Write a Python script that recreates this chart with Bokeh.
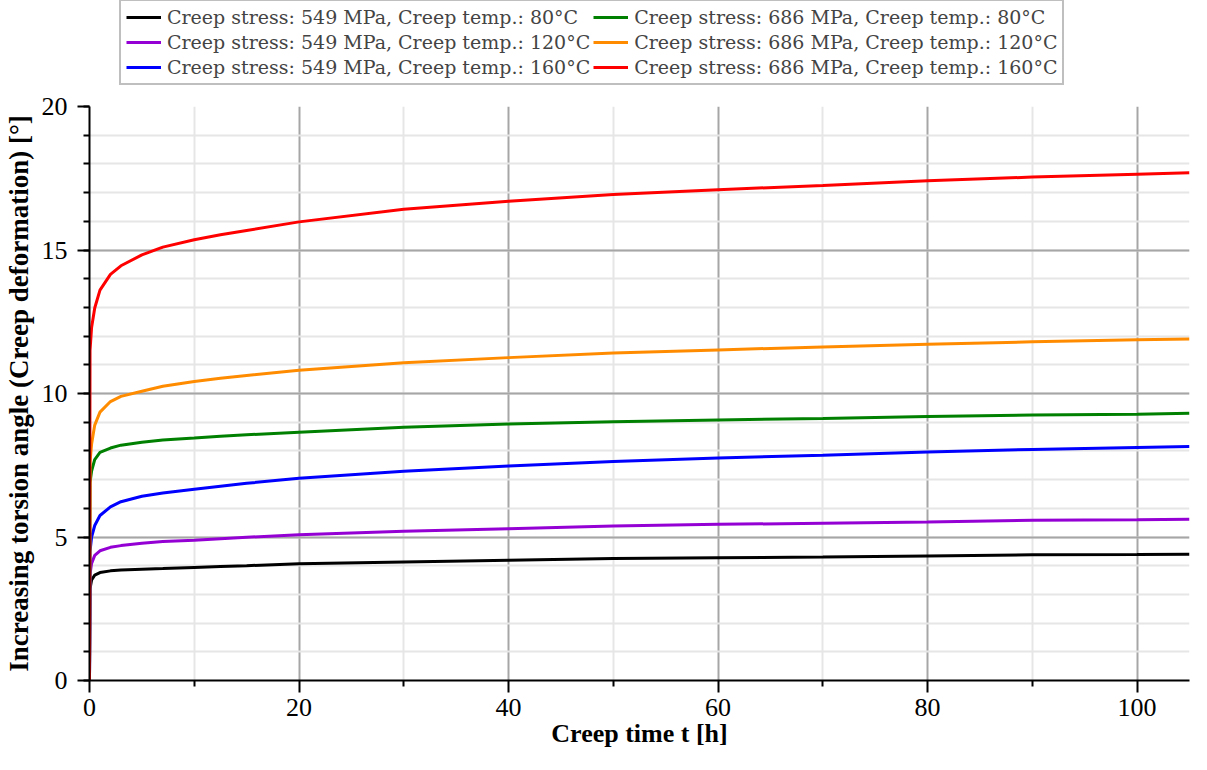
from bokeh.plotting import figure
from bokeh.layouts import column
from bokeh.models import Range1d, FixedTicker, Legend, LegendItem
from bokeh.embed import file_html
from bokeh.resources import INLINE

# Creep time [h]
creep_time = [0, 0.05, 0.2, 0.5, 1, 2, 3, 5, 7, 10, 12.5, 15, 20, 30, 40, 50, 60, 70, 80, 90, 100, 105]

# Increasing torsion angle [deg]
s549_t80 = [0, 3.2, 3.5, 3.67, 3.76, 3.82, 3.85, 3.88, 3.9, 3.94, 3.97, 4.0, 4.07, 4.13, 4.19, 4.25, 4.28, 4.30, 4.34, 4.38, 4.39, 4.40]
s549_t120 = [0, 3.7, 4.08, 4.36, 4.52, 4.64, 4.7, 4.78, 4.84, 4.89, 4.94, 4.99, 5.08, 5.20, 5.29, 5.38, 5.44, 5.48, 5.52, 5.58, 5.60, 5.62]
s549_t160 = [0, 4.5, 5.0, 5.4, 5.75, 6.05, 6.23, 6.42, 6.53, 6.66, 6.77, 6.87, 7.05, 7.29, 7.47, 7.63, 7.75, 7.85, 7.96, 8.05, 8.12, 8.15]
s686_t80 = [0, 6.9, 7.3, 7.7, 7.95, 8.1, 8.2, 8.3, 8.38, 8.45, 8.51, 8.56, 8.65, 8.82, 8.94, 9.02, 9.08, 9.13, 9.20, 9.25, 9.28, 9.31]
s686_t120 = [0, 7.6, 8.24, 8.9, 9.35, 9.72, 9.9, 10.08, 10.25, 10.42, 10.53, 10.63, 10.81, 11.07, 11.25, 11.41, 11.52, 11.62, 11.72, 11.80, 11.87, 11.90]
s686_t160 = [0, 11.5, 12.3, 12.98, 13.6, 14.15, 14.45, 14.83, 15.1, 15.36, 15.53, 15.68, 15.98, 16.42, 16.70, 16.93, 17.10, 17.25, 17.41, 17.54, 17.64, 17.69]

series_labels = [
    "Creep stress: 549 MPa, Creep temp.: 80°C",
    "Creep stress: 549 MPa, Creep temp.: 120°C",
    "Creep stress: 549 MPa, Creep temp.: 160°C",
    "Creep stress: 686 MPa, Creep temp.: 80°C",
    "Creep stress: 686 MPa, Creep temp.: 120°C",
    "Creep stress: 686 MPa, Creep temp.: 160°C",
]
series_values = [s549_t80, s549_t120, s549_t160, s686_t80, s686_t120, s686_t160]
series_colors = ["#000000", "#9400d3", "#0000ff", "#008000", "#ff8c00", "#ff0000"]

x_major = [0, 20, 40, 60, 80, 100]
x_minor = [10, 30, 50, 70, 90]
y_major = [0, 5, 10, 15, 20]
y_minor = list(range(0, 21))

x_title = "Creep time t [h]"
y_title = "Increasing torsion angle (Creep deformation) [°]"

W = 1191

# ---- main chart ----
p = figure(width=W, height=663, output_backend="svg", toolbar_location=None,
           x_range=Range1d(0, 105), y_range=Range1d(0, 20),
           min_border_left=87, min_border_right=2, min_border_top=15, min_border_bottom=74)
p.outline_line_color = None
p.background_fill_color = "white"

p.xaxis.ticker = FixedTicker(ticks=x_major, minor_ticks=x_minor)
p.yaxis.ticker = FixedTicker(ticks=y_major, minor_ticks=y_minor)

for ax in (p.xaxis[0], p.yaxis[0]):
    ax.axis_line_color = "black"
    ax.axis_line_width = 2
    ax.major_tick_line_color = "black"
    ax.major_tick_line_width = 2
    ax.minor_tick_line_color = "black"
    ax.minor_tick_line_width = 2
    ax.major_tick_in = 0
    ax.major_tick_out = 12
    ax.minor_tick_in = 0
    ax.minor_tick_out = 6
    ax.major_label_text_font = "Liberation Serif"
    ax.major_label_text_font_size = "26px"
    ax.major_label_text_color = "black"
    ax.axis_label_text_font = "Liberation Serif"
    ax.axis_label_text_font_size = "27px"
    ax.axis_label_text_font_style = "bold"
    ax.axis_label_text_color = "black"

p.xaxis.axis_label_text_font_size = "26px"
p.xaxis.axis_label = x_title
p.yaxis.axis_label = y_title
p.xaxis.major_label_standoff = 6
p.yaxis.major_label_standoff = 10
p.xaxis.axis_label_standoff = 0
p.yaxis.axis_label_standoff = 5

for g in (p.xgrid[0], p.ygrid[0]):
    g.grid_line_color = "#a6a6a6"
    g.grid_line_width = 2
    g.minor_grid_line_color = "#e6e6e6"
    g.minor_grid_line_width = 2

for vals, col in zip(series_values, series_colors):
    p.line(creep_time, vals, line_color=col, line_width=3)

# ---- legend strip above the chart (its lines lie outside its visible range) ----
lg = figure(width=W, height=91, output_backend="svg", toolbar_location=None,
            x_range=Range1d(-20, -10), y_range=Range1d(-20, -10),
            min_border=0, x_axis_type=None, y_axis_type=None)
lg.outline_line_color = None
lg.xgrid.visible = False
lg.ygrid.visible = False

items = []
for lab, vals, col in zip(series_labels, series_values, series_colors):
    r = lg.line(creep_time, vals, line_color=col, line_width=3)
    items.append(LegendItem(label=lab, renderers=[r]))

legend = Legend(items=items, location=(30, 6), nrows=3, orientation="vertical",
                label_text_font="DejaVu Serif", label_text_font_size="19px",
                label_height=20, glyph_height=20, glyph_width=35, label_standoff=6,
                spacing=3, padding=5, margin=0,
                border_line_color="#808080", border_line_width=2,
                background_fill_alpha=1.0)
lg.add_layout(legend, "center")

layout = column(lg, p, spacing=0)
open("out.html", "w").write(file_html(layout, INLINE))
